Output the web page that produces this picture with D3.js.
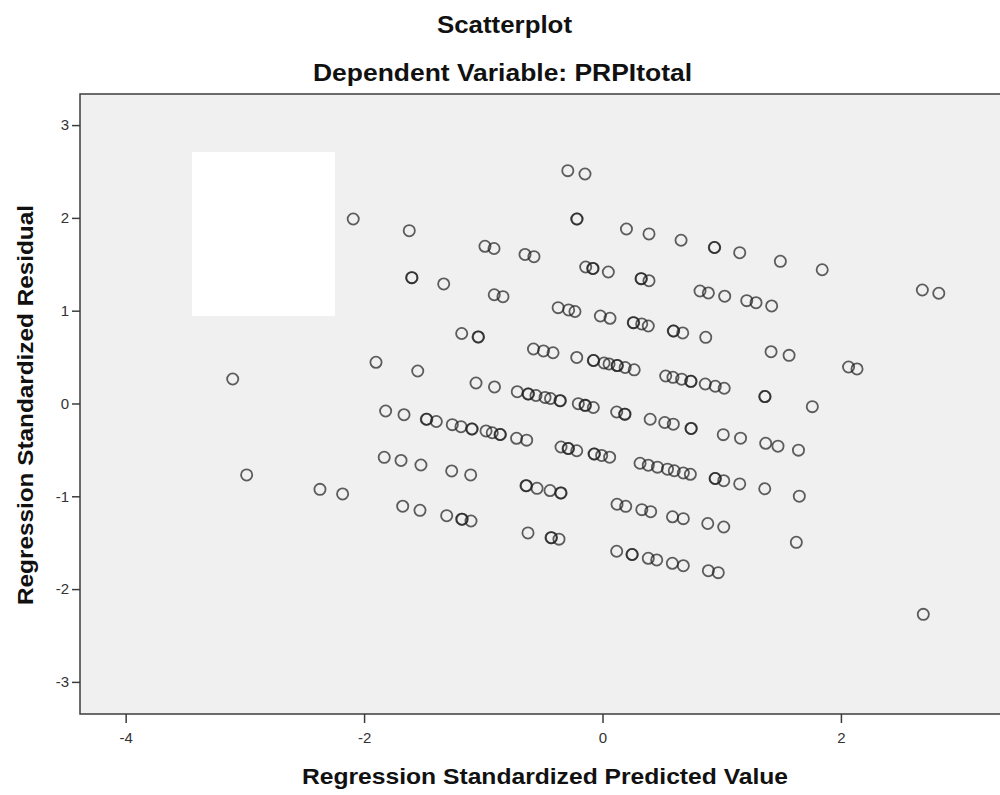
<!DOCTYPE html>
<html>
<head>
<meta charset="utf-8">
<script src="https://cdn.jsdelivr.net/npm/d3@7"></script>
<style>
  body { margin: 0; background: #fff; }
  text { font-family: "Liberation Sans", Arial, sans-serif; }
</style>
</head>
<body>
<div id="container"></div>
<script>
let width = 1000
let height = 795

// plot frame
let margin = { top: 94, right: -4, bottom: 81, left: 80 }

let title = "Scatterplot"
let subtitle = "Dependent Variable: PRPItotal"
let xLabel = "Regression Standardized Predicted Value"
let yLabel = "Regression Standardized Residual"

let xTicks = [-4, -2, 0, 2]
let yTicks = [-3, -2, -1, 0, 1, 2, 3]

// standardized predicted values (x), one per case
let predicted = [
  -3.102, -2.985, -2.370, -2.180, -2.091, -1.900, -1.831, -1.819, -1.690, -1.676,
  -1.665, -1.621, -1.601, -1.598, -1.550, -1.531, -1.523, -1.478, -1.474, -1.394,
  -1.332, -1.307, -1.265, -1.260, -1.187, -1.181, -1.181, -1.177, -1.106, -1.103,
  -1.097, -1.093, -1.044, -1.040, -1.061, -0.986, -0.910, -0.908, -0.835, -0.906,
  -0.977, -0.925, -0.860, -0.856, -0.721, -0.636, -0.715, -0.650, -0.575, -0.642,
  -0.638, -0.549, -0.440, -0.351, -0.347, -0.625, -0.432, -0.428, -0.365, -0.625,
  -0.621, -0.558, -0.482, -0.436, -0.357, -0.353, -0.579, -0.495, -0.415, -0.372,
  -0.284, -0.231, -0.291, -0.147, -0.216, -0.213, -0.216, -0.203, -0.147, -0.143,
  -0.077, -0.348, -0.289, -0.285, -0.216, -0.141, -0.082, -0.079, 0.049, -0.018,
  0.063, -0.077, -0.074, 0.013, 0.055, 0.122, 0.125, 0.190, 0.266, -0.071,
  -0.068, -0.007, 0.060, 0.122, 0.195, 0.119, 0.247, 0.250, 0.384, 0.455,
  0.586, 0.678, 0.888, 0.971, 0.119, 0.186, 0.189, 0.201, 0.390, 0.659,
  0.938, 0.941, 1.151, 1.492, 1.843, 0.323, 0.326, 0.390, 0.258, 0.261,
  0.329, 0.384, 0.594, 0.597, 0.673, 0.866, 0.818, 0.888, 1.025, 1.210,
  1.288, 1.419, 1.414, 1.565, 2.064, 2.135, 2.683, 2.821, 0.530, 0.591,
  0.664, 0.740, 0.743, 0.862, 0.946, 1.021, 1.361, 1.364, 0.400, 0.522,
  0.594, 0.742, 0.745, 1.013, 1.158, 1.369, 1.472, 1.644, 1.760, 0.315,
  0.384, 0.461, 0.545, 0.602, 0.678, 0.737, 0.944, 0.947, 1.017, 1.151,
  1.361, 1.651, 0.330, 0.404, 0.587, 0.678, 0.883, 1.017, 1.626, 2.691
]

// standardized residuals (y), same order
let residual = [
  0.264, -0.770, -0.925, -0.975, 1.988, 0.444, -0.580, -0.081, -0.614, -1.107,
  -0.121, 1.862, 1.356, 1.356, 0.350, -1.151, -0.663, -0.170, -0.170, -0.194,
  1.288, -1.209, -0.727, -0.228, -0.250, 0.754, -1.247, -1.247, -0.770, -1.266,
  -0.275, -0.275, 0.717, 0.717, 0.221, 1.694, 1.670, 1.172, 1.151, 0.178,
  -0.296, -0.315, -0.334, -0.334, -0.375, -0.395, 0.127, 1.606, 1.582, -0.886,
  -0.886, -0.914, -0.938, -0.964, -0.964, -1.395, -1.446, -1.446, -1.462, 0.102,
  0.102, 0.086, 0.065, 0.054, 0.030, 0.030, 0.587, 0.566, 0.547, 1.033,
  1.008, 0.991, 2.509, 2.473, 1.988, 1.988, 0.496, -0.002, -0.020, -0.020,
  -0.043, -0.469, -0.485, -0.485, -0.509, 1.471, 1.455, 1.455, 1.417, 0.943,
  0.918, 0.463, 0.463, 0.436, 0.426, 0.409, 0.409, 0.388, 0.363, -0.544,
  -0.544, -0.560, -0.579, -1.086, -1.108, -1.592, -1.627, -1.627, -1.668, -1.686,
  -1.722, -1.748, -1.802, -1.823, -0.092, -0.115, -0.115, 1.880, 1.827, 1.759,
  1.681, 1.681, 1.625, 1.532, 1.441, 1.345, 1.345, 1.323, 0.871, 0.871,
  0.857, 0.835, 0.781, 0.781, 0.760, 0.713, 1.212, 1.191, 1.156, 1.108,
  1.086, 1.051, 0.558, 0.519, 0.393, 0.372, 1.223, 1.188, 0.296, 0.282,
  0.262, 0.239, 0.239, 0.210, 0.186, 0.164, 0.075, 0.075, -0.170, -0.205,
  -0.223, -0.269, -0.269, -0.336, -0.374, -0.429, -0.460, -0.503, -0.034, -0.644,
  -0.665, -0.686, -0.708, -0.725, -0.749, -0.763, -0.808, -0.808, -0.832, -0.867,
  -0.919, -0.999, -1.144, -1.166, -1.221, -1.241, -1.293, -1.331, -1.496, -2.272
]

let data = predicted.map((p, i) => ({ x: p, y: residual[i] }))

let x = d3.scaleLinear()
  .domain([-4.383, 3.368])
  .range([margin.left, width - margin.right])

let y = d3.scaleLinear()
  .domain([-3.346, 3.335])
  .range([height - margin.bottom, margin.top])

// plain hyphen for negatives, like the original
let fmt = d => String(d)

let svg = d3.select("#container")
  .append("svg")
  .attr("width", width)
  .attr("height", height)
  .attr("viewBox", [0, 0, width, height])

// titles
svg.append("text")
  .attr("x", 504.5).attr("y", 33)
  .attr("text-anchor", "middle")
  .attr("font-size", 23).attr("font-weight", "bold")
  .attr("textLength", 135).attr("lengthAdjust", "spacingAndGlyphs")
  .attr("fill", "#111")
  .text(title)

svg.append("text")
  .attr("x", 502.5).attr("y", 81)
  .attr("text-anchor", "middle")
  .attr("font-size", 23).attr("font-weight", "bold")
  .attr("textLength", 379).attr("lengthAdjust", "spacingAndGlyphs")
  .attr("fill", "#111")
  .text(subtitle)

// plot background + frame
svg.append("rect")
  .attr("x", margin.left)
  .attr("y", margin.top)
  .attr("width", width - margin.right - margin.left)
  .attr("height", height - margin.bottom - margin.top)
  .attr("fill", "#f0f0f0")
  .attr("stroke", "#3c3c3c")
  .attr("stroke-width", 1.5)

// blank legend box
svg.append("rect")
  .attr("x", 192).attr("y", 152)
  .attr("width", 143).attr("height", 164)
  .attr("fill", "#fff")

// Y Axis
let yAxis = g => g
  .attr("transform", `translate(${margin.left},0)`)
  .call(d3.axisLeft(y).tickValues(yTicks).tickSize(8).tickPadding(3).tickFormat(fmt))
  .call(g => g.select(".domain").remove())
  .call(g => g.selectAll(".tick line").attr("stroke", "#3c3c3c").attr("stroke-width", 1.5))
  .call(g => g.selectAll(".tick text")
    .attr("font-size", 15).attr("fill", "#333")
    .attr("font-family", "'Liberation Sans', Arial, sans-serif"))

// X Axis
let xAxis = g => g
  .attr("transform", `translate(0,${height - margin.bottom})`)
  .call(d3.axisBottom(x).tickValues(xTicks).tickSize(9).tickPadding(9).tickFormat(fmt))
  .call(g => g.select(".domain").remove())
  .call(g => g.selectAll(".tick line").attr("stroke", "#3c3c3c").attr("stroke-width", 1.5))
  .call(g => g.selectAll(".tick text")
    .attr("font-size", 15).attr("fill", "#333")
    .attr("font-family", "'Liberation Sans', Arial, sans-serif"))

svg.append("g").call(yAxis)
svg.append("g").call(xAxis)

// axis titles
svg.append("text")
  .attr("x", 545).attr("y", 784)
  .attr("text-anchor", "middle")
  .attr("font-size", 22).attr("font-weight", "bold")
  .attr("textLength", 486).attr("lengthAdjust", "spacingAndGlyphs")
  .attr("fill", "#111")
  .text(xLabel)

svg.append("text")
  .attr("transform", `translate(33,405) rotate(-90)`)
  .attr("text-anchor", "middle")
  .attr("font-size", 22).attr("font-weight", "bold")
  .attr("textLength", 400).attr("lengthAdjust", "spacingAndGlyphs")
  .attr("fill", "#111")
  .text(yLabel)

// points
svg.append("g")
  .selectAll("circle")
  .data(data)
  .join("circle")
  .attr("cx", d => x(d.x))
  .attr("cy", d => y(d.y))
  .attr("r", 5.6)
  .attr("fill", "none")
  .attr("stroke", "#222")
  .attr("stroke-opacity", 0.72)
  .attr("stroke-width", 1.8)
</script>
</body>
</html>
